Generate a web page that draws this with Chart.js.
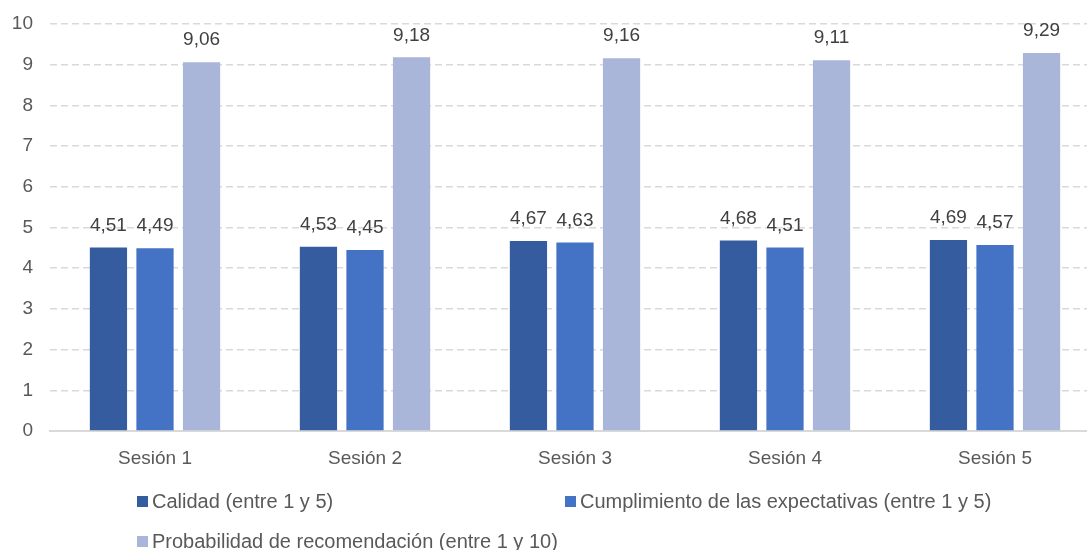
<!DOCTYPE html>
<html>
<head>
<meta charset="utf-8">
<script src="https://cdn.jsdelivr.net/npm/chart.js@4/dist/chart.umd.min.js"></script>
<style>
  html, body { margin: 0; padding: 0; background: #ffffff; overflow: hidden; }
  #wrap { position: relative; width: 1100px; height: 550px; }
</style>
</head>
<body>
<div id="wrap"><canvas id="c" width="1100" height="550"></canvas></div>
<script>
// Sessions along the x axis
const sessions = ['Sesión 1', 'Sesión 2', 'Sesión 3', 'Sesión 4', 'Sesión 5'];

// Survey averages per session
const calidad = [4.51, 4.53, 4.67, 4.68, 4.69];
const cumplimiento = [4.49, 4.45, 4.63, 4.51, 4.57];
const recomendacion = [9.06, 9.18, 9.16, 9.11, 9.29];

// Series names shown in the legend
const seriesNames = [
  'Calidad (entre 1 y 5)',
  'Cumplimiento de las expectativas (entre 1 y 5)',
  'Probabilidad de recomendación (entre 1 y 10)'
];

const FONT = '"Liberation Sans", Arial, sans-serif';

// Value labels above each bar, decimal comma
const valueLabels = {
  id: 'valueLabels',
  afterDatasetsDraw(chart) {
    const ctx = chart.ctx;
    ctx.save();
    ctx.font = '19px ' + FONT;
    ctx.fillStyle = '#404040';
    ctx.textAlign = 'center';
    ctx.textBaseline = 'middle';
    chart.data.datasets.forEach((ds, i) => {
      chart.getDatasetMeta(i).data.forEach((bar, j) => {
        const txt = ds.data[j].toFixed(2).replace('.', ',');
        ctx.fillText(txt, bar.x, bar.y - 22);
      });
    });
    ctx.restore();
  }
};

// Two-column legend below the axis
const gridLegend = {
  id: 'gridLegend',
  afterDraw(chart) {
    const ctx = chart.ctx;
    const cols = [137, 565];
    const rows = [501, 541];
    ctx.save();
    ctx.font = '20px ' + FONT;
    ctx.textBaseline = 'middle';
    ctx.textAlign = 'left';
    chart.data.datasets.forEach((ds, i) => {
      const x = cols[i % 2];
      const y = rows[Math.floor(i / 2)];
      ctx.fillStyle = ds.backgroundColor;
      ctx.fillRect(x, y - 5, 11, 11);
      ctx.fillStyle = '#595959';
      ctx.fillText(ds.label, x + 15, y + 1);
    });
    ctx.restore();
  }
};

new Chart(document.getElementById('c'), {
  type: 'bar',
  data: {
    labels: sessions,
    datasets: [
      { label: seriesNames[0], data: calidad, backgroundColor: '#355C9F' },
      { label: seriesNames[1], data: cumplimiento, backgroundColor: '#4472C4' },
      { label: seriesNames[2], data: recomendacion, backgroundColor: '#A9B6DA' }
    ]
  },
  options: {
    responsive: false,
    animation: false,
    devicePixelRatio: 1,
    layout: { padding: { top: 24, right: 0, left: 0, bottom: 0 } },
    datasets: {
      bar: { categoryPercentage: 0.665, barPercentage: 0.8 }
    },
    plugins: {
      legend: { display: false },
      tooltip: { enabled: false }
    },
    scales: {
      x: {
        grid: { display: false, drawTicks: false },
        border: { display: true, color: '#d9d9d9', width: 2 },
        ticks: { color: '#595959', font: { family: FONT, size: 19 }, padding: 16 },
        afterFit(scale) { scale.height = 119; scale.paddingLeft = 0; scale.paddingRight = 0; }
      },
      y: {
        min: 0,
        max: 10,
        ticks: { stepSize: 1, color: '#595959', font: { family: FONT, size: 19 }, padding: 17 },
        grid: {
          color: (c) => c.tick.value === 0 ? 'rgba(0,0,0,0)' : '#d9d9d9',
          lineWidth: 1.5,
          drawTicks: false
        },
        border: { display: false, dash: [7, 4] },
        afterFit(scale) { scale.width = 50; scale.paddingTop = 0; scale.paddingBottom = 0; }
      }
    }
  },
  plugins: [valueLabels, gridLegend]
});
</script>
</body>
</html>
